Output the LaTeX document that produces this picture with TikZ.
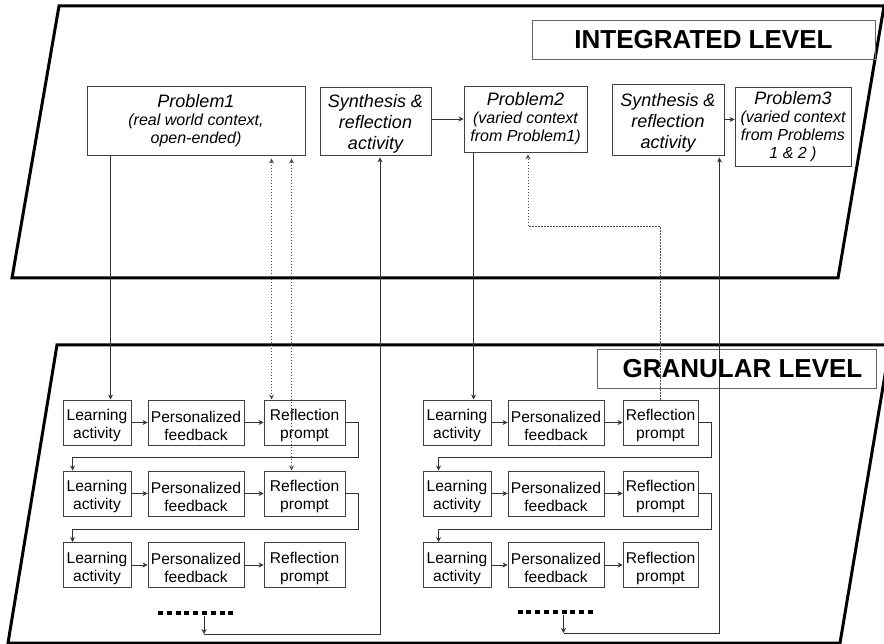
\documentclass[tikz,border=0pt]{standalone}
\usepackage{fontspec}
\setmainfont{Liberation Sans}
\usetikzlibrary{arrows.meta,calc}
\newcommand\ttl[1]{{\fontsize{18}{18}\selectfont #1}\\}
\newcommand\lift[1]{\rule{0pt}{#1}}

\begin{document}
\begin{tikzpicture}[x=1pt,y=-1pt,line join=miter]
\tikzset{>={Stealth[length=5pt,width=5pt]},
  level/.style={line width=3pt},
  tag/.style={draw=black!60,font=\fontsize{26}{26}\selectfont\bfseries,minimum height=39pt,inner sep=0pt},
  prob/.style={draw=black!75,line width=0.9pt,align=center,inner sep=0pt,font=\fontsize{16}{18}\selectfont\itshape},
  synth/.style={prob,font=\fontsize{18}{21}\selectfont\itshape},
  box/.style={draw=black!75,line width=0.9pt,align=center,inner sep=0pt,minimum height=45pt,font=\fontsize{15.6}{18}\selectfont},
  arr/.style={->,draw=black!80,line width=0.9pt},
  recall/.style={draw=black!70,line width=0.9pt,dash pattern=on 1.5pt off 1.5pt},
  more/.style={line width=3.3pt,dash pattern=on 5pt off 3.8pt}}
\useasboundingbox (0,0) rectangle (884,644);

% the two levels
\draw[level] (59,6) -- (884,6) -- (838,278) -- (12,278) -- cycle;
\draw[level] (57,345) -- (890,345) -- (840,643) -- (8,643) -- cycle;
\node[tag,minimum width=343pt] (integrated) at (703.5,39.5) {INTEGRATED LEVEL};
\node[tag,minimum width=279pt] (granular) at (736.5,368.5) {\hspace*{12pt}GRANULAR LEVEL};

% integrated level
\node[prob,minimum width=218pt,minimum height=69pt] (prob1) at (196,120.5) {\ttl{Problem1}(real world context,\\open-ended)};
\node[synth,minimum width=111pt,minimum height=68pt] (syn1) at (375.5,121) {\lift{19pt}Synthesis \&\\reflection\\activity};
\node[prob,minimum width=123pt,minimum height=66pt] (prob2) at (525.5,119) {\ttl{Problem2}(varied context\\from Problem1)};
\node[synth,minimum width=112pt,minimum height=71pt] (syn2) at (668,119.5) {\lift{19pt}Synthesis \&\\reflection\\activity};
\node[prob,minimum width=116pt,minimum height=79pt] (prob3) at (793,126.5) {\ttl{Problem3}(varied context\\from Problems\\1 \& 2 )};
\draw[arr] (syn1.east |- prob2) -- (prob2);
\draw[arr] (syn2.east) -- (prob3.west |- syn2.east);

% granular level
\foreach \g/\dx/\rx/\rw in {l/0/304.5/81pt,r/360/660.5/75pt}
 \foreach \r/\y in {1/422.5,2/493.5,3/565}{
  \node[box,minimum width=68pt] (la-\g\r) at (97+\dx,\y) {\lift{18pt}Learning\\activity};
  \node[box,minimum width=96pt] (pf-\g\r) at (196+\dx,\y) {\lift{18pt}Personalized\\feedback};
  \node[box,minimum width=\rw] (rp-\g\r) at (\rx,\y) {\lift{18pt}Reflection\\prompt};
  \draw[arr] (la-\g\r) -- (pf-\g\r);
  \draw[arr] (pf-\g\r) -- (rp-\g\r);
 }
\foreach \g/\sx in {l/10pt,r/16pt}
 \foreach \r/\s in {1/2,2/3}
  \draw[arr] (rp-\g\r.east) -- ++(13,0) |- ([shift={(\sx,13pt)}]la-\g\s.north west) -- ([xshift=\sx]la-\g\s.north west);

% between the levels
\draw[arr] ([xshift=24pt]prob1.south west) -- ([xshift=24pt]prob1.south west |- la-l1.north);
\draw[arr] ([xshift=10pt]prob2.south west) -- ([xshift=10pt]prob2.south west |- la-r1.north);
\draw[recall,<->,shorten <=3pt] ([xshift=8pt]rp-l1.north west |- prob1.south) -- ([xshift=8pt]rp-l1.north west);
\draw[recall,<->,shorten <=3pt] ([xshift=28pt]rp-l2.north west |- prob1.south) -- ([xshift=28pt]rp-l2.north west);
\draw[recall,->,shorten >=2pt] (rp-r1.north) |- ([shift={(2.5pt,-74pt)}]prob2.south) -- ([xshift=2.5pt]prob2.south);

\coordinate (dots-l) at (195.5,613);
\coordinate (dots-r) at (555,612);
\foreach \g/\up/\ux in {l/syn1.south/4.5pt,r/syn2.south east/-5pt}{
  \draw[more] ($(dots-\g)+(-37.5,0)$) -- ++(75,0);
  \draw[arr] ([shift={(8.5pt,-3pt)}]dots-\g) -- ([shift={(8.5pt,-21pt)}]dots-\g) coordinate (back-\g);
  \draw[arr,shorten >=2pt] (back-\g) -| ([xshift=\ux]\up);
}
\end{tikzpicture}
\end{document}
